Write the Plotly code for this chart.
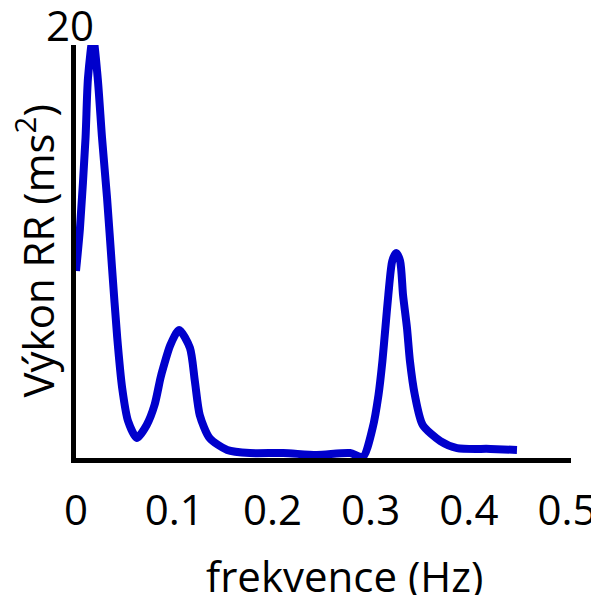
import plotly.graph_objects as go

freq = [0.0, 0.004, 0.0097, 0.0122, 0.0173, 0.0221, 0.0265, 0.0316, 0.0367, 0.042, 0.047,
        0.053, 0.062, 0.072, 0.080, 0.086, 0.089, 0.096, 0.105, 0.116, 0.121, 0.126,
        0.136, 0.154, 0.177, 0.211, 0.245, 0.279, 0.292, 0.302, 0.308, 0.312, 0.315,
        0.318, 0.322, 0.326, 0.330, 0.333, 0.337, 0.340, 0.345, 0.353, 0.371, 0.388,
        0.422, 0.449]
power = [9.06, 11.1, 15.5, 18.4, 20.4, 18.4, 15.5, 12.6, 9.2, 5.81, 3.39,
         1.79, 0.97, 1.60, 2.57, 3.87, 4.4, 5.47, 6.2, 5.33, 3.73, 2.08,
         0.97, 0.39, 0.24, 0.24, 0.15, 0.24, 0.05, 1.45, 3.05, 4.70, 6.30,
         7.89, 9.54, 9.93, 9.54, 7.89, 6.30, 4.70, 3.05, 1.60, 0.82, 0.48,
         0.44, 0.39]

xticks = [0, 0.1, 0.2, 0.3, 0.4, 0.5]
xticklabels = ["0", "0.1", "0.2", "0.3", "0.4", "0.5"]
ymax_label = "20"

FONT = "Open Sans"
FS = 42

fig = go.Figure()
fig.add_trace(go.Scatter(x=freq, y=power, mode="lines",
                         line=dict(color="#0000CC", width=8, shape="spline", smoothing=0.7),
                         cliponaxis=False, showlegend=False, hoverinfo="skip"))

fig.add_annotation(x=0, y=1, xref="paper", yref="paper", text=ymax_label, showarrow=False,
                   xanchor="center", yanchor="middle", xshift=-6, yshift=21,
                   font=dict(family=FONT, size=FS, color="black"))
fig.add_annotation(x=0.5, y=0, xref="paper", yref="paper", text="frekvence (Hz)", showarrow=False,
                   xanchor="center", yanchor="middle", xshift=21, yshift=-117,
                   font=dict(family=FONT, size=FS, color="black"))
fig.add_annotation(x=0, y=0.5, xref="paper", yref="paper", text="Výkon RR (ms<sup>2</sup>)",
                   showarrow=False, textangle=-90, xanchor="center", yanchor="middle",
                   xshift=-40, yshift=0,
                   font=dict(family=FONT, size=FS, color="black"))

# page body has an 8px default margin; compensate so the plot lands where intended
fig.update_layout(
    template="none",
    width=591, height=587,
    margin=dict(l=68, r=28, t=37, b=137, autoexpand=False),
    plot_bgcolor="white", paper_bgcolor="white",
    font=dict(family=FONT, color="black"),
    xaxis=dict(range=[0, 0.504], tickvals=xticks, ticktext=xticklabels, automargin=False,
               showline=True, linecolor="black", linewidth=5, showgrid=False, zeroline=False,
               ticks="", ticklabelstandoff=12, tickfont=dict(size=FS, family=FONT, color="black")),
    yaxis=dict(range=[0, 20], showticklabels=False, showline=True, linecolor="black", linewidth=5,
               showgrid=False, zeroline=False, ticks="", automargin=False),
)

fig.write_html("out.html")
